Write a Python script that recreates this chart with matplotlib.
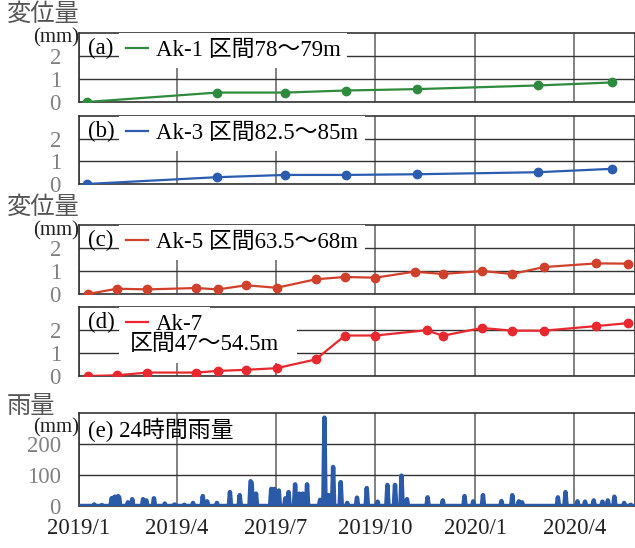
import pandas as pd
import matplotlib
matplotlib.use("Agg")
import matplotlib.pyplot as plt
from matplotlib.lines import Line2D
from matplotlib.patches import Rectangle

plt.rcParams['font.family'] = ['Liberation Serif', 'Noto Sans CJK JP']

# extensometer readings (mm)
dates_13 = ["2019-01-08", "2019-05-08", "2019-07-10", "2019-09-04",
            "2019-11-08", "2020-02-28", "2020-05-06"]
ak1 = [0.0, 0.41, 0.41, 0.50, 0.56, 0.72, 0.85]
ak3 = [0.0, 0.30, 0.40, 0.40, 0.43, 0.52, 0.67]

dates_5 = ["2019-01-09", "2019-02-05", "2019-03-05", "2019-04-19", "2019-05-09",
           "2019-06-04", "2019-07-02", "2019-08-07", "2019-09-03", "2019-10-01",
           "2019-11-06", "2019-12-02", "2020-01-07", "2020-02-04", "2020-03-04",
           "2020-04-21", "2020-05-21"]
ak5 = [0.0, 0.23, 0.20, 0.26, 0.20, 0.38, 0.27, 0.64, 0.74, 0.71,
       0.97, 0.87, 1.00, 0.87, 1.17, 1.33, 1.32]

dates_7 = ["2019-01-09", "2019-02-05", "2019-03-05", "2019-04-19", "2019-05-09",
           "2019-06-04", "2019-07-02", "2019-08-07", "2019-09-03", "2019-10-01",
           "2019-11-17", "2019-12-02", "2020-01-07", "2020-02-04", "2020-03-04",
           "2020-04-21", "2020-05-21"]
ak7 = [0.0, 0.03, 0.15, 0.15, 0.22, 0.27, 0.34, 0.72, 1.76, 1.76,
       1.99, 1.75, 2.09, 1.97, 1.97, 2.17, 2.30]

# 24h rainfall, days with rain (other days 0)
rain_dates = ["2019-01-15", "2019-01-22", "2019-01-31", "2019-02-01", "2019-02-03",
              "2019-02-06", "2019-02-07", "2019-02-15", "2019-02-19", "2019-03-01",
              "2019-03-04", "2019-03-11", "2019-03-21", "2019-03-30", "2019-04-08",
              "2019-04-16", "2019-04-25", "2019-04-29", "2019-05-08", "2019-05-20",
              "2019-05-29", "2019-06-08", "2019-06-09", "2019-06-13", "2019-06-27",
              "2019-06-28", "2019-06-30", "2019-07-02", "2019-07-04", "2019-07-10",
              "2019-07-13", "2019-07-19", "2019-07-23", "2019-07-26", "2019-07-30",
              "2019-08-11", "2019-08-15", "2019-08-19", "2019-08-23", "2019-08-30",
              "2019-09-05", "2019-09-14", "2019-09-23", "2019-10-03", "2019-10-12",
              "2019-10-19", "2019-10-25", "2019-10-30", "2019-11-18", "2019-12-02",
              "2019-12-22", "2019-12-30", "2020-01-08", "2020-01-25", "2020-02-04",
              "2020-02-10", "2020-02-13", "2020-03-17", "2020-03-24", "2020-04-04",
              "2020-04-11", "2020-04-19", "2020-04-27", "2020-05-02", "2020-05-08",
              "2020-05-17", "2020-05-23"]
rain_mm = [5, 3, 25, 26, 30,
           32, 28, 12, 22, 22,
           18, 25, 8, 5, 4,
           10, 32, 15, 10, 45,
           35, 80, 75, 40, 55,
           52, 55, 40, 50, 25,
           45, 70, 40, 40, 70,
           20, 285, 35, 126, 77,
           10, 27, 58, 14, 68,
           68, 98, 22, 28, 18,
           32, 15, 35, 16, 35,
           15, 12, 28, 45, 15,
           14, 18, 14, 18, 30,
           10, 4]

x_ticks = ["2019-01-01", "2019-04-01", "2019-07-01", "2019-10-01", "2020-01-01", "2020-04-01"]
x_labels = ["2019/1", "2019/4", "2019/7", "2019/10", "2020/1", "2020/4"]

start, end = pd.Timestamp("2019-01-01"), pd.Timestamp("2020-05-27")
days = pd.date_range(start, end, freq="D")
rain = pd.Series(0.0, index=days)
rain[pd.to_datetime(rain_dates)] = rain_mm

FS = 16.5

fig = plt.figure(figsize=(6.35, 5.48), dpi=100)
L, W = 79 / 635, 556 / 635
H = 548
axa = fig.add_axes([L, 1 - 102 / H, W, 69 / H])
axb = fig.add_axes([L, 1 - 184 / H, W, 68 / H])
axc = fig.add_axes([L, 1 - 294 / H, W, 69 / H])
axd = fig.add_axes([L, 1 - 376 / H, W, 69 / H])
axe = fig.add_axes([L, 1 - 506 / H, W, 93 / H])

xt = pd.to_datetime(x_ticks)
for ax in [axa, axb, axc, axd, axe]:
    ax.set_xlim(start, end)
    ax.set_xticks(xt)
    ax.grid(axis="x", color="#777777", lw=1.3)
    ax.grid(axis="y", color="#333333", lw=1.0)
    ax.set_axisbelow(True)
    ax.tick_params(length=0, labelsize=FS, labelcolor="#808080", pad=13)
    ax.tick_params(axis="x", labelcolor="#222222", pad=9)
    for s in ax.spines.values():
        s.set_color("#333333")
        s.set_linewidth(1.2)
    if ax is not axe:
        ax.set_ylim(0, 3)
        ax.set_yticks([0, 1, 2])
        ax.set_xticklabels([])
axe.set_xticklabels(x_labels)

panels = [(axa, "(a)", dates_13, ak1, "#2e8b3e", "Ak-1 区間78〜79m"),
          (axb, "(b)", dates_13, ak3, "#2a5db0", "Ak-3 区間82.5〜85m"),
          (axc, "(c)", dates_5, ak5, "#d0402a", "Ak-5 区間63.5〜68m"),
          (axd, "(d)", dates_7, ak7, "#e8282e", "Ak-7")]
for ax, tag, d, v, col, lab in panels:
    ax.plot(pd.to_datetime(d), v, color=col, lw=1.6, marker="o", ms=6, zorder=3)
    ax.text(0.016, 0.78, tag, transform=ax.transAxes, fontsize=FS, va="center", zorder=5)
    h = Line2D([], [], color=col, lw=1.6)
    leg = ax.legend([h], [lab], loc="upper left", bbox_to_anchor=(0.072, 1.0),
                    fontsize=FS, frameon=True, fancybox=False, framealpha=1,
                    facecolor="white", edgecolor="none", borderpad=0.3,
                    borderaxespad=0, handlelength=0.95, handletextpad=0.35)
    leg.set_zorder(4)

# white block behind the two-line label of panel (d)
axd.add_patch(Rectangle((0.072, 0.19), 0.32, 0.81, transform=axd.transAxes,
                        facecolor="white", edgecolor="none", zorder=2))
axd.text(0.092, 0.46, "区間47〜54.5m", transform=axd.transAxes, fontsize=FS,
         va="center", zorder=5)

axe.plot(rain.index, rain.values, color="#2a5aa8", lw=3.2, solid_joinstyle="round",
         solid_capstyle="round", zorder=3)
axe.set_ylim(0, 300)
axe.set_yticks([0, 100, 200])
axe.text(0.016, 0.817, "(e) 24時間雨量", transform=axe.transAxes, fontsize=FS, va="center")

for y, txt in [(15, "変位量"), (208, "変位量"), (407, "雨量")]:
    fig.text(7 / 635, 1 - y / H, txt, fontsize=17.5, color="#555555", va="center")
for y in [38, 231, 428]:
    fig.text(79 / 635, 1 - y / H, "(mm)", fontsize=15, color="#222222", va="center", ha="right")

fig.savefig("out.png", dpi=100)
